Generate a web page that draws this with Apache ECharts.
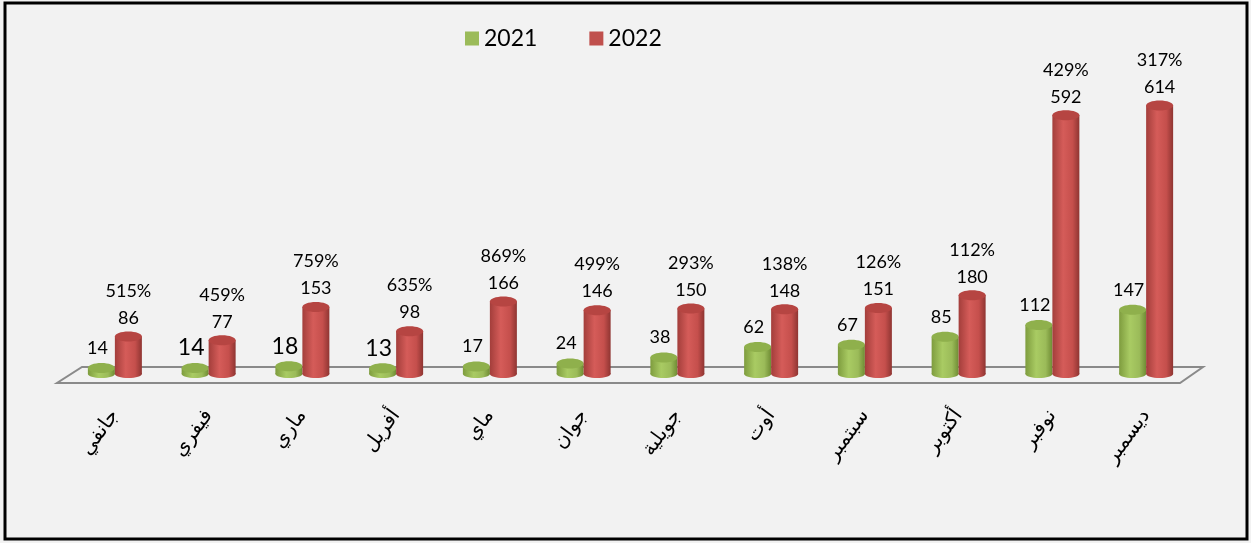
<!DOCTYPE html>
<html>
<head>
<meta charset="utf-8">
<script src="https://cdn.jsdelivr.net/npm/echarts@6/dist/echarts.min.js"></script>
<style>
  html, body { margin: 0; padding: 0; background: #f2f2f2; }
  #chart { width: 1251px; height: 543px; }
</style>
</head>
<body>
<div id="chart"></div>
<script>
// mois (libellés tels qu'ils apparaissent sur le graphique)
var months = ['جانفي', 'فيفري', 'ماري', 'أفريل', 'ماي', 'جوان', 'جويلية', 'أوت', 'سبتمبر', 'أكتوبر', 'نوفبر', 'ديسمبر'];
var values2021 = [14, 14, 18, 13, 17, 24, 38, 62, 67, 85, 112, 147];
var values2022 = [86, 77, 153, 98, 166, 146, 150, 148, 151, 180, 592, 614];
var growth = [515, 459, 759, 635, 869, 499, 293, 138, 126, 112, 429, 317];

var bigLabels = [1, 2, 3]; // étiquettes 2021 écrites plus grandes

var chart = echarts.init(document.getElementById('chart'));

function cylinder(colors, offset, labelFn) {
  return function (params, api) {
    var idx = api.value(0);
    var top = api.coord([idx, api.value(1)]);
    var base = api.coord([idx, 0]);
    var w = 27;
    var cx = top[0] + offset;
    var grad = new echarts.graphic.LinearGradient(0, 0, 1, 0, [
      { offset: 0, color: colors[0] },
      { offset: 0.4, color: colors[1] },
      { offset: 0.75, color: colors[2] },
      { offset: 1, color: colors[3] }
    ]);
    var children = [
      { type: 'ellipse', shape: { cx: cx, cy: base[1], rx: w / 2, ry: 4 }, style: { fill: grad } },
      { type: 'rect', shape: { x: cx - w / 2, y: top[1], width: w, height: base[1] - top[1] }, style: { fill: grad } },
      { type: 'ellipse', shape: { cx: cx, cy: top[1], rx: w / 2, ry: 5 }, style: { fill: colors[4] } }
    ];
    children.push(labelFn(params.dataIndex, cx, top[1]));
    return { type: 'group', children: children };
  };
}

chart.setOption({
  backgroundColor: '#f2f2f2',
  animation: false,
  graphic: [
    { type: 'rect', shape: { x: 5, y: 3, width: 1242, height: 536 }, style: { fill: 'none', stroke: '#000', lineWidth: 3 }, z: 100 },
    { type: 'polygon', shape: { points: [[82, 367], [1203, 367], [1180, 383], [57, 383]] }, style: { fill: '#f2f2f2', stroke: '#8a8a8a', lineWidth: 2 }, z: -1 }
  ],
  legend: {
    top: 22,
    left: 460,
    itemWidth: 14,
    itemHeight: 14,
    itemGap: 52,
    icon: 'rect',
    textStyle: { fontSize: 23, color: '#000', fontFamily: 'Lato' },
    data: ['2021', '2022']
  },
  grid: { left: 68, right: 58, top: 68, bottom: 169 },
  xAxis: {
    type: 'category',
    data: months,
    axisLine: { show: false },
    axisTick: { show: false },
    axisLabel: { rotate: 54, margin: 38, fontSize: 20, color: '#000', fontFamily: 'DejaVu Sans', interval: 0 }
  },
  yAxis: { type: 'value', min: 0, max: 700, show: false, splitLine: { show: false } },
  series: [
    {
      name: '2021',
      type: 'custom',
      itemStyle: { color: '#9bbb59' },
      renderItem: cylinder(['#7e9c3e', '#a9cb63', '#9bbb59', '#6f8c34', '#8fb04c'], -13.5, function (i, cx, y) {
        var big = bigLabels.indexOf(i) >= 0;
        return {
          type: 'text',
          style: {
            text: String(values2021[i]),
            x: cx - 4,
            y: y - 20,
            align: 'center',
            verticalAlign: 'middle',
            fontSize: big ? 23 : 18,
            fontFamily: 'Lato',
            fill: '#000'
          }
        };
      }),
      data: values2021.map(function (v, i) { return [i, v]; })
    },
    {
      name: '2022',
      type: 'custom',
      itemStyle: { color: '#c0504d' },
      renderItem: cylinder(['#a33e3b', '#d55c59', '#c54f4c', '#8f3532', '#b64542'], 13.5, function (i, cx, y) {
        return {
          type: 'text',
          style: {
            text: growth[i] + '%\n' + values2022[i],
            x: cx,
            y: y - 5,
            align: 'center',
            verticalAlign: 'bottom',
            fontSize: 18,
            lineHeight: 27,
            fontFamily: 'Lato',
            fill: '#000'
          }
        };
      }),
      data: values2022.map(function (v, i) { return [i, v]; })
    }
  ]
});
</script>
</body>
</html>
